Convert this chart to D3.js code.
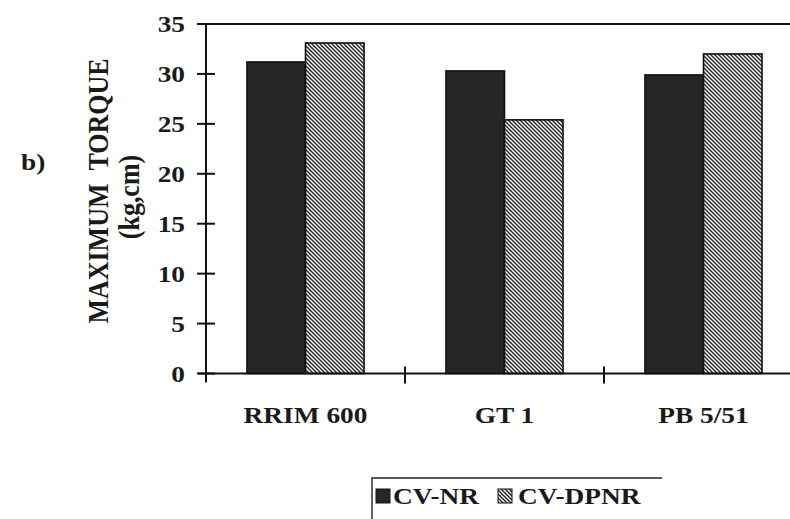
<!DOCTYPE html>
<html>
<head>
<meta charset="utf-8">
<script src="https://cdn.jsdelivr.net/npm/d3@7"></script>
<style>
  html, body { margin: 0; padding: 0; background: #fff; }
  svg { display: block; }
  text { font-family: "Liberation Serif", "Times New Roman", serif; font-weight: bold; fill: #1a1a1a; }
</style>
</head>
<body>
<svg id="chart" width="790" height="519"></svg>
<script>
// Maximum torque (kg.cm) per clone, for the two rubber grades
const clones = ["RRIM 600", "GT 1", "PB 5/51"];
const series = ["CV-NR", "CV-DPNR"];
const cvNR = [31.2, 30.3, 29.9];
const cvDPNR = [33.1, 25.4, 32.0];
const yTicks = [0, 5, 10, 15, 20, 25, 30, 35];

const rows = clones.map((c, i) => ({ clone: c, values: [cvNR[i], cvDPNR[i]] }));

const svg = d3.select("#chart");
const SX = 1.14; // horizontal stretch of the lettering

const defs = svg.append("defs");
const pat = defs.append("pattern")
  .attr("id", "hatch")
  .attr("patternUnits", "userSpaceOnUse")
  .attr("width", 4).attr("height", 4);
pat.append("rect").attr("width", 4).attr("height", 4).attr("fill", "#fff");
pat.append("path")
  .attr("d", "M-1,-1 L5,5 M-1,3 L1,5 M3,-1 L5,1")
  .attr("stroke", "#222").attr("stroke-width", 1.4);

const fills = ["#262626", "url(#hatch)"];

const plotLeft = 206, plotTop = 24, plotBottom = 373.5;
const x0 = d3.scaleBand().domain(clones).range([plotLeft, plotLeft + 3 * 199]).paddingInner(0).paddingOuter(0);
const x1 = d3.scaleBand().domain(series).range([0, x0.bandwidth()]).paddingInner(0).paddingOuter(0.7);
const y = d3.scaleLinear().domain([0, 35]).range([plotBottom, plotTop]);

// bars
const g = svg.append("g");
rows.forEach(r => {
  g.selectAll(null)
    .data(series.map((s, j) => ({ s, v: r.values[j], j })))
    .join("rect")
    .attr("x", d => x0(r.clone) + x1(d.s))
    .attr("y", d => y(d.v))
    .attr("width", x1.bandwidth())
    .attr("height", d => y(0) - y(d.v))
    .attr("fill", d => fills[d.j])
    .attr("stroke", "#111")
    .attr("stroke-width", 1.6);
});

// frame: top line, left axis, bottom axis
const ax = svg.append("g").attr("stroke", "#111").attr("stroke-width", 2).attr("fill", "none");
ax.append("line").attr("x1", 198).attr("x2", 790).attr("y1", y(35)).attr("y2", y(35));
ax.append("line").attr("x1", plotLeft).attr("x2", plotLeft).attr("y1", y(35)).attr("y2", y(0) + 9);
ax.append("line").attr("x1", 198).attr("x2", 790).attr("y1", y(0)).attr("y2", y(0));

// y ticks crossing the axis
ax.selectAll(null).data(yTicks).join("line")
  .attr("x1", plotLeft - 9).attr("x2", plotLeft + 9)
  .attr("y1", d => y(d)).attr("y2", d => y(d));

// x ticks at category boundaries
ax.selectAll(null).data(clones.slice(1)).join("line")
  .attr("x1", d => x0(d)).attr("x2", d => x0(d))
  .attr("y1", y(0) - 7).attr("y2", y(0) + 10);

// y tick labels
svg.append("g").selectAll(null).data(yTicks).join("text")
  .attr("transform", d => `translate(185,${y(d) + 8}) scale(${SX},1)`)
  .attr("text-anchor", "end")
  .attr("font-size", 24)
  .text(d => d);

// category labels
svg.append("g").selectAll(null).data(clones).join("text")
  .attr("transform", d => `translate(${x0(d) + x0.bandwidth() / 2},423) scale(${SX},1)`)
  .attr("text-anchor", "middle")
  .attr("font-size", 24)
  .text(d => d);

// axis title
svg.append("text")
  .attr("transform", `translate(108,191) scale(${SX},1) rotate(-90)`)
  .attr("text-anchor", "middle")
  .attr("font-size", 26)
  .text("MAXIMUM\u00a0\u00a0TORQUE");
svg.append("text")
  .attr("transform", `translate(139,197) scale(${SX},1) rotate(-90)`)
  .attr("text-anchor", "middle")
  .attr("font-size", 26)
  .text("(kg,cm)");

// panel letter
svg.append("text")
  .attr("transform", `translate(21,170) scale(${SX},1)`)
  .attr("font-size", 24)
  .text("b)");

// legend
const lg = svg.append("g");
lg.append("path").attr("d", "M372,519 L372,478 L662,478")
  .attr("stroke", "#222").attr("stroke-width", 1.4).attr("fill", "none");
const legendX = [376, 498];
series.forEach((s, j) => {
  lg.append("rect")
    .attr("x", legendX[j]).attr("y", 489).attr("width", 14).attr("height", 14)
    .attr("fill", fills[j]).attr("stroke", "#111").attr("stroke-width", 1);
  lg.append("text")
    .attr("transform", `translate(${legendX[j] + 17 + j * 3},504) scale(${SX},1)`)
    .attr("font-size", 24)
    .text(s);
});
</script>
</body>
</html>
